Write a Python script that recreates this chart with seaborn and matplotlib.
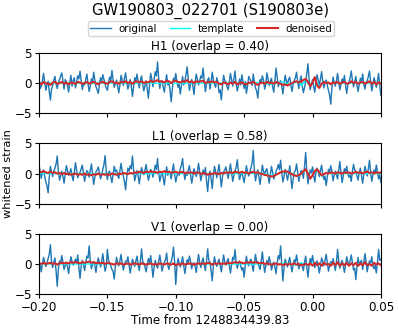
import numpy as np
import pandas as pd
import seaborn as sns
import matplotlib.pyplot as plt

# whitened strain; raw data at 1200 Hz, denoised at 600 Hz
t_start = -0.2
fs_orig = 1200.0
fs_den = 600.0

h1_original = [0.8, -0.9, -0.5, 0.4, 1.6, 0.2, -1.2, -0.3, 0.3, -1.4, -2.8, -1.0, -0.4, 0.5, 1.1, -0.2, -0.9, 0.1, 0.6, 1.2,
               1.7, 0.3, -1.0, 0.6, 0.2, -0.4, -1.5, 0.1, 1.3, -0.5, 0.4, 0.9, -0.8, 0.2, 1.2, 0.7, 2.0, 0.4, -1.1, -0.2,
               -0.3, 0.6, 1.5, -0.1, -1.4, -0.5, 0.7, 0.2, 1.8, 0.5, -0.6, -1.1, -1.7, -0.2, 0.9, 0.3, 1.4, 0.6, -0.2, -0.8,
               -1.2, 0.1, 1.0, 0.4, 2.1, 0.6, -0.7, -0.1, 0.5, -0.6, -1.6, -0.3, 1.3, 0.5, -0.4, 0.8, 1.7, 0.2, -1.0, -0.3,
               0.6, -0.5, -2.2, -0.6, 0.9, 0.3, 1.5, 0.2, -0.8, 0.5, 1.2, -0.2, -1.3, -0.4, 0.4, -1.0, -2.5, -0.3, 1.6, 0.7,
               -0.6, 0.5, 1.9, 1.2, 3.5, 0.8, -0.9, 0.4, 0.3, -0.7, -1.5, 0.1, 1.4, -0.3, 0.2, -1.2, -3.1, -0.9, 0.8, 0.3,
               1.6, 0.2, -0.7, -0.2, -1.8, -0.4, 1.1, -0.3, 0.4, 1.4, 2.7, 0.5, -1.2, -0.1, 0.6, -0.5, -1.9, 0.2, 1.5, 0.6,
               -0.3, 0.4, 1.2, 0.8, 2.5, 0.3, -1.4, -0.2, 0.5, 0.9, -1.0, 0.2, 1.8, 0.6, -0.2, -0.7, 0.9, 0.1, -1.6, -1.1,
               -2.8, -0.5, 1.3, 0.4, 0.2, -0.6, -1.1, 0.3, 1.6, 0.5, -0.5, 0.8, 2.0, -0.2, -1.3, -0.4, 0.7, -0.3, 1.4, 0.2,
               -0.9, 0.3, -1.7, -0.5, 1.1, 0.7, 0.3, -0.4, 1.5, 0.2, -0.8, -1.3, -2.5, -0.4, 0.6, 0.2, 1.2, 0.5, -1.0, -0.2,
               1.7, 0.6, -0.4, 0.3, 0.8, -0.6, -1.5, 0.4, 2.5, 1.0, -0.6, 0.1, 0.4, -0.5, -1.8, -0.3, 1.3, 0.4, -0.2, 0.6,
               1.0, -0.3, -1.4, -0.2, 0.5, 0.9, 1.8, 0.2, -0.9, 0.4, 1.2, -0.5, -1.6, -0.7, 0.3, 1.6, 3.2, 0.6, -1.1, -0.2,
               0.6, -0.6, -1.5, 0.2, 1.4, 0.5, -0.3, 0.7, 1.9, 0.3, -0.8, 0.1, 0.5, -0.4, -1.2, -2.0, -3.5, -0.8, 1.0, 0.2,
               -0.5, 0.4, 1.6, 0.3, -1.1, -0.2, 0.7, 0.1, 1.3, -0.4, -1.7, -0.3, 0.2, 0.9, 2.0, 0.5, -0.6, 0.2, 1.1, -0.3,
               -1.4, -0.2, 0.8, 0.3, 1.5, -0.2, -1.0, 0.1, 0.4, 1.1, 2.0, 0.4, -1.3, -0.2, 0.9, 0.2, -0.7, 0.5, 1.6, -0.4,
               -2.0]
h1_denoised = [0.1, -0.2, 0.2, -0.1, 0.0, -0.3, 0.1, 0.2, -0.1, 0.0,
               0.2, -0.1, 0.1, -0.2, 0.1, 0.0, -0.1, 0.2, 0.1, -0.1,
               0.0, 0.2, -0.1, 0.1, 0.2, 0.0, -0.2, 0.1, 0.2, 0.0,
               -0.1, 0.2, 0.3, 0.0, 0.1, -0.1, 0.2, 0.1, 0.3, 0.0,
               0.2, -0.1, 0.2, 0.3, 0.1, 0.3, 0.0, 0.2, 0.1, 0.4,
               0.2, 0.3, 0.5, 0.2, 0.3, 0.1, 0.4, 0.3, 0.0, 0.3,
               0.4, 0.2, 0.1, 0.3, 0.2, 0.5, 0.1, 0.3, 0.0, 0.3,
               0.2, 0.3, 0.4, 0.0, 0.2, 0.1, 0.3, 0.1, 0.2, -0.1,
               -0.2, 0.1, 0.0, -0.2, 0.1, -0.1, 0.2, -0.2, 0.0, 0.1,
               -0.1, -0.2, 0.1, 0.0, 0.2, -0.1, -0.3, 0.0, 0.1, -0.1,
               0.2, 0.0, 0.1, -0.1, 0.2, 0.0, -0.1, -0.3, -0.2, -0.4,
               -0.2, 0.0, 0.2, 0.3, 0.1, 0.3, 0.5, 0.7, 0.2, -0.5,
               0.1, 1.0, -0.4, -0.8, -0.1, 0.2, 0.0, 0.1, -0.2, 0.1,
               0.0, 0.2, -0.1, 0.1, 0.2, -0.1, 0.0, 0.3, 0.0, 0.2,
               -0.1, 0.1, 0.2, -0.1, 0.1, 0.3, -0.1, 0.2, -0.2, 0.1,
               -0.1]
h1_template_t = [-0.2, -0.05, -0.04, -0.03, -0.022, -0.016, -0.011, -0.008,
                 -0.005, -0.002, 0.0015, 0.005, 0.008, 0.012, 0.016, 0.05]
h1_template = [0.0, 0.0, 0.1, -0.2, 0.2, -0.3, 0.3, -0.4,
               0.5, -0.5, 0.8, -0.7, 0.3, -0.1, 0.0, 0.0]

l1_original = [1.5, 0.4, -0.8, 0.3, 0.6, -0.5, -1.4, -2.0, -3.2, -0.6, 1.2, 0.2, -0.5, 0.4, 0.9, 1.6, 2.9, 0.3, -1.1, -0.4,
               0.4, -0.5, -1.6, -0.2, 1.3, 0.5, -0.3, 0.2, 0.8, -0.4, -1.2, 0.3, 1.8, 0.6, -0.7, -0.1, 0.2, 0.8, 1.4, 0.1,
               -1.3, -0.3, 0.5, 0.2, -0.6, 0.5, 1.6, -0.2, -1.8, -0.6, 0.3, 0.6, 1.1, 0.1, -0.9, -0.2, 0.7, 1.5, 3.0, 0.4,
               -1.0, 0.2, 0.4, -0.6, -1.5, -0.2, 1.2, 0.3, 0.6, -0.3, -0.8, 0.5, 1.7, 0.4, -0.4, -1.3, -2.7, -0.6, 0.9, 0.4,
               1.3, 0.8, 2.9, 0.6, -1.2, -0.3, 0.5, -0.4, -1.7, -0.2, 1.0, 0.3, -0.2, 0.6, 1.5, 0.1, -1.1, -0.3, 0.7, 0.2,
               -0.6, 0.3, 1.4, 0.7, 2.5, 0.2, -1.3, -0.4, 0.3, -0.8, -1.9, -0.2, 1.1, -0.3, 0.4, 0.2, -0.9, 0.5, 1.6, -0.1,
               -1.4, -0.4, 0.2, -0.3, 0.9, 1.4, 2.5, 0.3, -1.0, 0.2, -0.3, 0.6, 1.3, -0.2, -1.6, -0.5, 0.8, 0.2, -0.5, 0.4,
               1.7, 0.2, -1.2, -0.3, 0.6, -0.2, 1.0, -1.2, -3.0, -0.6, 0.4, -0.8, -2.5, -0.3, 1.2, 0.3, -0.7, 0.4, 1.5, -0.4,
               -2.2, -0.5, 0.3, 0.6, 1.1, 0.1, -0.8, 0.4, 1.6, 0.2, -1.3, -0.3, 0.5, 1.0, 2.3, 0.3, -1.0, -0.2, 0.2, -0.6,
               -1.5, -0.2, 1.3, 0.2, -0.4, 0.3, 0.9, 1.8, 3.8, 0.5, -1.2, -0.1, 0.6, -0.6, -1.8, -0.2, 1.4, 0.4, -0.3, 0.5,
               0.8, -0.4, -1.6, -0.1, 1.2, 0.2, -0.9, -0.3, 0.4, 0.8, 1.5, 0.6, 2.2, 0.2, -1.4, -0.5, 0.7, 0.1, -1.1, -0.2,
               1.3, -0.6, -2.5, -0.9, 0.2, 0.5, 1.6, 0.1, -1.3, -0.2, 0.5, 0.2, -0.8, 1.2, 3.5, 0.4, -1.7, -0.6, 0.6, 0.1,
               1.1, -0.3, -1.4, 0.2, 0.9, 0.3, -0.5, 0.6, 1.4, -0.2, -1.0, -0.4, -2.0, -0.5, 0.7, 0.2, 1.3, 0.4, -1.2, -0.3,
               0.4, -0.2, -0.9, 0.6, 2.0, 0.1, -1.5, -0.3, 0.8, 0.2, 1.2, -0.1, -0.6, -0.2, -1.3, 0.4, 1.5, 0.6, 0.3, -0.4,
               -1.1, 0.2, 0.9, -0.3, -1.6, -0.2, 1.2, 0.4, -0.4, 0.8, 2.2, 0.3, -1.3, -0.2, 0.6, 0.1, 1.4, 0.3, -0.9, -0.2,
               -1.5]
l1_denoised = [0.4, 0.2, 0.4, 0.2, 0.1, 0.3, 0.1, 0.2, 0.0, 0.1,
               -0.1, 0.1, -0.1, 0.0, -0.2, -0.1, 0.0, -0.2, -0.1, -0.2,
               0.0, -0.2, -0.1, -0.3, -0.1, -0.2, 0.0, -0.2, -0.1, -0.2,
               -0.1, -0.2, 0.0, -0.1, -0.2, 0.0, -0.1, 0.1, 0.0, -0.1,
               0.1, 0.0, 0.2, 0.1, 0.3, 0.2, 0.1, 0.3, 0.2, 0.4,
               0.2, 0.3, 0.1, 0.3, 0.2, 0.4, 0.2, 0.3, 0.1, 0.2,
               0.3, 0.1, 0.2, 0.3, 0.0, 0.2, 0.1, 0.2, 0.0, 0.1,
               0.2, -0.1, 0.1, 0.0, -0.2, 0.0, -0.1, 0.1, 0.0, -0.1,
               0.1, 0.0, 0.2, 0.1, 0.2, 0.1, 0.3, 0.2, 0.1, 0.3,
               0.1, 0.2, 0.0, 0.2, 0.3, 0.1, 0.2, 0.0, -0.1, -0.2,
               -0.3, -0.4, -0.5, -0.4, -0.2, 0.0, 0.2, 0.3, 0.4, 0.3,
               0.1, -0.1, -0.3, -0.4, -0.3, 0.0, 0.4, 0.7, 0.0, -0.85,
               -0.3, 0.4, 0.7, 0.2, -0.3, -0.1, 0.1, 0.0, 0.2, 0.1,
               0.0, 0.2, 0.1, 0.0, 0.2, 0.1, 0.2, 0.0, 0.1, 0.3,
               0.1, 0.2, 0.0, 0.2, 0.3, 0.1, 0.2, 0.0, 0.2, 0.1,
               0.2]
l1_template_t = [-0.2, -0.045, -0.038, -0.03, -0.02, -0.01, -0.005, -0.0017,
                 0.0033, 0.0067, 0.01, 0.014, 0.02, 0.05]
l1_template = [0.0, 0.0, 0.1, -0.3, 0.35, -0.45, 0.6, -0.75,
               0.65, -0.45, 0.15, -0.05, 0.0, 0.0]

v1_original = [0.7, -0.2, -1.3, 0.1, 1.1, 0.3, -0.4, 0.2, 0.9, 1.6, 3.2, 0.4, -0.6, 0.3, 1.0, -1.2, -3.7, -0.8, 0.5, 0.2,
               1.4, 0.3, -0.9, -0.2, 0.3, -0.5, -1.6, 0.1, 1.2, 0.4, -0.2, 0.3, 0.8, 0.2, 1.5, -0.6, -2.4, -0.4, 0.6, -0.1,
               -1.1, 0.2, 1.3, 1.0, 3.0, 0.5, -0.8, -0.1, 0.4, -0.3, -1.4, 0.2, 1.0, 0.3, -0.5, 0.4, 1.7, 0.1, -1.2, -0.4,
               2.4, 0.6, 0.2, -0.3, -0.9, -1.2, -2.5, -0.4, 1.1, 0.2, -0.3, 0.5, 1.6, 0.1, -1.0, -0.2, 0.5, 0.3, 1.2, -0.2,
               -1.5, -0.3, 0.8, 0.2, -0.4, 0.5, 1.3, -0.2, -1.1, 0.6, 2.5, 0.4, 0.1, -0.5, -1.3, -0.1, 0.9, 0.2, 1.4, -0.3,
               -2.2, -0.6, 0.6, -0.1, -0.7, 0.4, 1.5, 0.2, -1.2, -0.3, 0.3, 0.7, 1.8, -0.2, -0.9, 0.1, 0.4, 1.2, 2.8, 0.4,
               -3.4, -0.5, 0.9, 0.2, -0.5, 0.3, 1.2, -0.3, -1.6, -0.2, 0.7, 0.2, 1.3, 0.4, -0.8, 0.1, 0.2, -0.4, -1.4, 0.3,
               1.6, 0.2, -0.6, 0.4, 1.0, -0.2, -1.1, 0.5, 2.5, 0.6, 0.3, -1.0, -2.8, -0.3, 1.2, 0.1, -0.4, 0.3, 0.8, -0.2,
               -1.3, 0.2, 1.5, 0.3, -0.2, 0.4, 0.9, -0.3, -1.5, -0.1, 1.1, 0.7, 2.4, 0.2, -0.7, 0.1, 0.5, -0.3, -1.0, -0.6,
               -2.2, -0.2, 1.3, 0.1, -0.3, 0.5, 0.8, -0.2, -1.2, 0.3, 1.6, 0.2, 0.4, -0.4, -0.9, 0.6, 2.0, 0.2, -1.4, -0.3,
               0.6, -0.2, 1.2, 0.3, -1.0, -0.2, 0.3, -0.5, -1.6, 0.2, 1.4, 0.8, 3.0, 0.2, -2.8, -0.6, 0.8, 0.1, -0.5, 0.3,
               1.1, -0.2, -1.3, -0.1, 0.7, 0.3, 1.5, 0.2, -0.8, -0.2, 0.2, -0.4, -1.1, 0.3, 1.3, -0.6, -2.2, -0.3, 0.9, 0.2,
               1.4, 0.3, -0.6, 0.1, 0.5, -0.4, -1.5, -0.2, 1.0, 0.4, -0.3, 0.6, 1.6, 0.2, -1.2, -0.3, 0.4, -0.2, 0.9, 0.1,
               -1.1, 0.3, 2.4, 0.5, -0.7, 0.1, 0.6, -0.3, -1.4, -0.2, 1.2, 0.4, -0.2, 0.5, 1.5, 0.2, -1.0, -0.7, -2.6, -0.5,
               1.1, -0.2, 0.3, 0.6, -0.9, 0.2, 1.7, 0.4, -1.3, -0.2, 0.5, 0.2, 1.2, -0.3, -0.8, -0.2, -1.5, 0.3, 2.4, 0.6,
               0.8]
v1_denoised = [0.1, 0.0, 0.2, 0.0, 0.1, 0.2, 0.0, 0.1, -0.1, 0.1,
               0.2, 0.1, 0.2, 0.1, 0.3, 0.2, 0.3, 0.2, 0.1, 0.3,
               0.2, 0.3, 0.4, 0.2, 0.3, 0.1, 0.2, 0.1, 0.2, 0.0,
               0.2, 0.1, 0.0, -0.1, 0.1, 0.0, 0.1, -0.1, 0.0, 0.1,
               -0.1, 0.0, 0.1, 0.0, -0.1, 0.1, 0.0, -0.1, 0.0, 0.1,
               -0.1, 0.0, -0.1, 0.1, 0.0, -0.1, 0.1, 0.0, -0.1, 0.1,
               -0.2, 0.0, -0.1, 0.1, -0.1, 0.0, 0.1, 0.0, -0.1, 0.0,
               0.1, 0.0, 0.1, 0.0, 0.2, 0.1, -0.1, 0.1, 0.0, 0.1,
               0.0, 0.1, 0.0, 0.2, 0.1, 0.2, 0.3, 0.2, 0.3, 0.2,
               0.1, 0.3, 0.2, 0.3, 0.2, 0.3, 0.2, 0.1, 0.2, 0.0,
               0.1, 0.0, -0.1, 0.0, 0.1, -0.1, 0.0, -0.2, 0.0, -0.1,
               0.0, -0.1, 0.1, -0.1, 0.0, -0.2, -0.1, 0.0, -0.2, 0.1,
               -0.3, 0.2, -0.2, 0.1, -0.3, 0.2, -0.1, 0.0, -0.3, 0.2,
               -0.2, 0.3, -0.3, 0.1, -0.2, 0.2, -0.3, 0.1, -0.2, 0.2,
               -0.3, 0.1, -0.2, 0.3, -0.2, 0.0, -0.3, 0.2, -0.1, 0.1,
               -0.2]
v1_template_t = [-0.2, -0.03, -0.02, -0.012, -0.008, -0.004, 0.0, 0.004, 0.01, 0.05]
v1_template = [0.0, 0.0, 0.1, -0.2, 0.2, -0.3, 0.2, -0.1, 0.0, 0.0]

detectors = ['H1', 'L1', 'V1']
overlaps = [0.40, 0.58, 0.00]
originals = [h1_original, l1_original, v1_original]
denoiseds = [h1_denoised, l1_denoised, v1_denoised]
templates = [(h1_template_t, h1_template), (l1_template_t, l1_template),
             (v1_template_t, v1_template)]

fig, axes = plt.subplots(3, 1, figsize=(3.98, 3.29), dpi=100, sharex=True)
fig.subplots_adjust(left=0.098, right=0.957, top=0.839, bottom=0.106, hspace=0.5)

for ax, det, ov, orig, den, (tt, tv) in zip(axes, detectors, overlaps, originals, denoiseds, templates):
    t_orig = t_start + np.arange(len(orig)) / fs_orig
    t_den = t_start + np.arange(len(den)) / fs_den
    sns.lineplot(x=t_orig, y=orig, ax=ax, color='tab:blue', lw=1.0,
                 estimator=None, sort=False, label='original')
    sns.lineplot(x=tt, y=tv, ax=ax, color='cyan', lw=1.0,
                 estimator=None, sort=False, label='template')
    sns.lineplot(x=t_den, y=den, ax=ax, color='tab:red', lw=1.5,
                 estimator=None, sort=False, label='denoised')
    ax.set_title(f'{det} (overlap = {ov:.2f})', fontsize=8.6, pad=1.5)
    ax.set_xlim(-0.2, 0.05)
    ax.set_ylim(-5, 5)
    ax.set_yticks([-5, 0, 5])
    ax.set_xticks([-0.2, -0.15, -0.1, -0.05, 0.0, 0.05])
    ax.tick_params(labelsize=8.6, length=3, pad=2)
    ax.get_legend().remove()

axes[2].set_xticklabels(['−0.20', '−0.15', '−0.10', '−0.05', '0.00', '0.05'])
axes[2].set_xlabel('Time from 1248834439.83', fontsize=8.6, labelpad=0)
axes[1].set_ylabel('whitened strain', fontsize=8.2)
axes[1].yaxis.set_label_coords(-0.075, 0.5)

handles, labels = axes[0].get_legend_handles_labels()
fig.legend(handles, labels, loc='upper center', bbox_to_anchor=(0.53, 0.952),
           ncol=3, fontsize=7.4, frameon=True, handlelength=2.0, columnspacing=1.3,
           borderpad=0.25, handletextpad=0.7)
fig.suptitle('GW190803_022701 (S190803e)', fontsize=10.6, y=0.99, va='top', x=0.53)

plt.savefig('out.png', dpi=100)
